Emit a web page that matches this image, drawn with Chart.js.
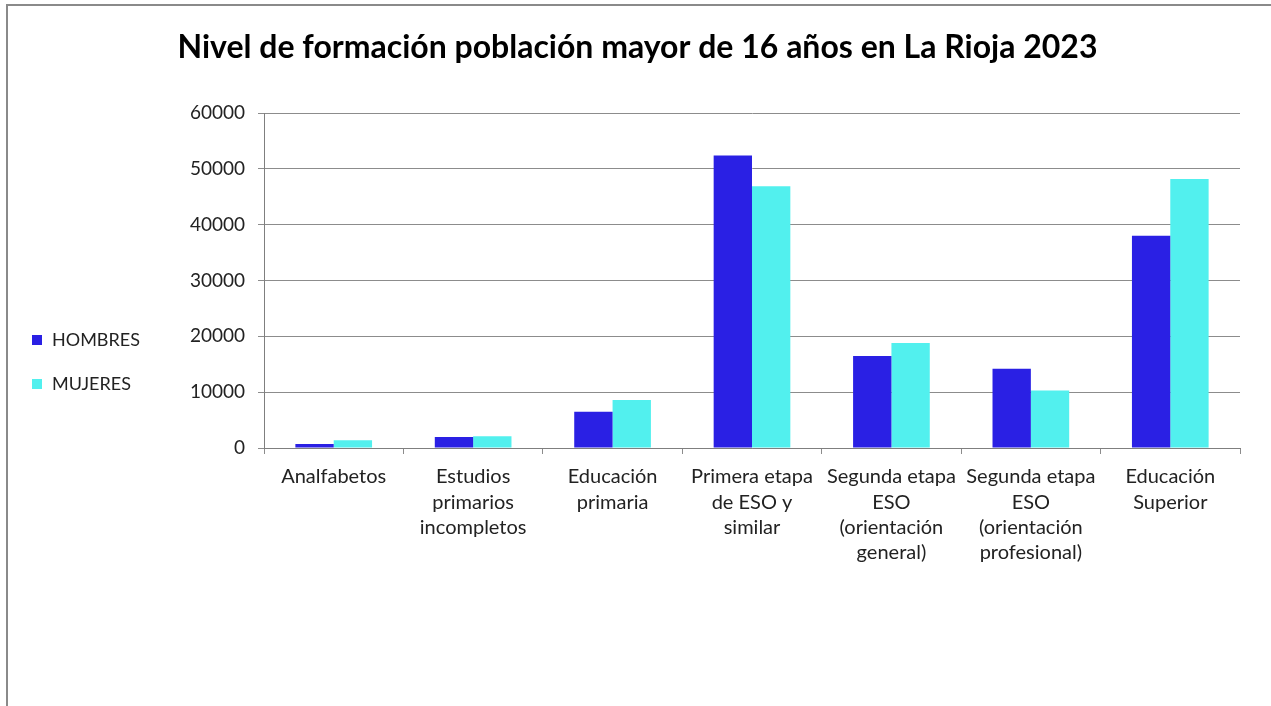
<!DOCTYPE html>
<html>
<head>
<meta charset="utf-8">
<script src="https://cdn.jsdelivr.net/npm/chart.js@4/dist/chart.umd.min.js"></script>
<style>
  html, body { margin: 0; padding: 0; background: #fff; }
  #wrap { position: relative; width: 1271px; height: 706px; overflow: hidden; }
  #frame { position: absolute; left: 6px; top: 4px; right: -10px; bottom: -10px;
           border-left: 2px solid #8a8a8a; border-top: 2px solid #8a8a8a; }
  canvas { position: absolute; left: 0; top: 0; }
</style>
</head>
<body>
<div id="wrap">
  <div id="frame"></div>
  <canvas id="c" width="1271" height="706"></canvas>
</div>
<script>
// Education level categories (multi-line axis labels)
const categories = [
  ["Analfabetos"],
  ["Estudios", "primarios", "incompletos"],
  ["Educación", "primaria"],
  ["Primera etapa", "de ESO y", "similar"],
  ["Segunda etapa", "ESO", "(orientación", "general)"],
  ["Segunda etapa", "ESO", "(orientación", "profesional)"],
  ["Educación", "Superior"]
];

const seriesNames = ["HOMBRES", "MUJERES"];

// Population aged 16+ by education level, La Rioja 2023
const hombres = [700, 1950, 6500, 52400, 16500, 14200, 38000];
const mujeres = [1400, 2100, 8600, 46900, 18800, 10300, 48200];

const yTicks = [0, 10000, 20000, 30000, 40000, 50000, 60000];

const FONT = "Lato, 'Open Sans', sans-serif";

// Legend drawn at the left, built from the dataset labels and colours
const sideLegend = {
  id: "sideLegend",
  afterDraw(chart) {
    const ctx = chart.ctx;
    ctx.save();
    chart.data.datasets.forEach((ds, i) => {
      const y = 340 + i * 44;
      ctx.fillStyle = ds.backgroundColor;
      ctx.fillRect(32, y - 5, 10, 10);
      ctx.fillStyle = "#222";
      ctx.font = "18px " + FONT;
      ctx.textBaseline = "middle";
      ctx.textAlign = "left";
      ctx.fillText(ds.label, 52, y);
    });
    ctx.restore();
  }
};

new Chart(document.getElementById("c"), {
  type: "bar",
  data: {
    labels: categories,
    datasets: [
      { label: seriesNames[0], data: hombres, backgroundColor: "#2a20e4" },
      { label: seriesNames[1], data: mujeres, backgroundColor: "#52f0ee" }
    ]
  },
  options: {
    responsive: false,
    animation: false,
    layout: { padding: { left: 35, right: 31, top: 8, bottom: 0 } },
    datasets: { bar: { categoryPercentage: 0.55, barPercentage: 1.0 } },
    plugins: {
      legend: { display: false },
      tooltip: { enabled: false },
      title: {
        display: true,
        text: "Nivel de formación población mayor de 16 años en La Rioja 2023",
        color: "#000",
        font: { family: FONT, size: 32, weight: "bold", lineHeight: 1.2 },
        padding: { top: 20, bottom: 46.6 }
      }
    },
    scales: {
      x: {
        offset: true,
        grid: { drawOnChartArea: false, drawTicks: true, tickLength: 6, color: "#8c8c8c", offset: true },
        border: { display: true, color: "#7f7f7f", width: 1 },
        ticks: {
          color: "#222",
          font: { family: FONT, size: 20, lineHeight: 1.27 },
          padding: 10,
          maxRotation: 0,
          autoSkip: false
        },
        afterFit(scale) { scale.height = 258; }
      },
      y: {
        min: 0,
        max: 60000,
        afterBuildTicks(scale) { scale.ticks = yTicks.map(v => ({ value: v })); },
        grid: { color: "#8c8c8c", tickLength: 6, drawTicks: true },
        border: { display: true, color: "#7f7f7f", width: 1 },
        ticks: {
          color: "#222",
          font: { family: FONT, size: 19 },
          padding: 13,
          callback: (v) => String(v)
        },
        afterFit(scale) { scale.width = 229; }
      }
    }
  },
  plugins: [sideLegend]
});
</script>
</body>
</html>
